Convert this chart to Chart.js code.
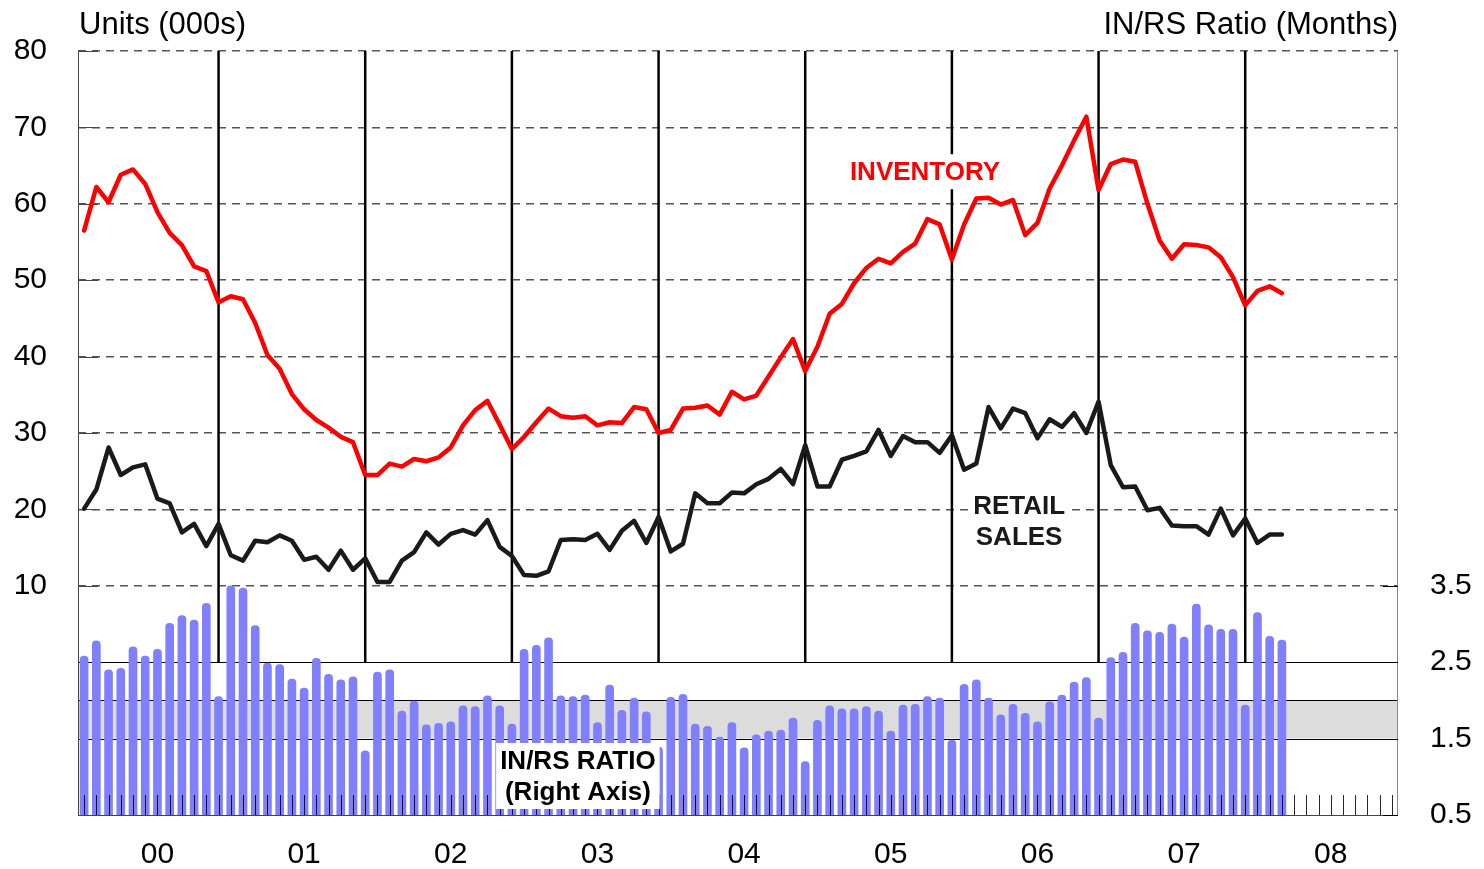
<!DOCTYPE html>
<html>
<head>
<meta charset="utf-8">
<script src="https://cdn.jsdelivr.net/npm/chart.js@4.4.1/dist/chart.umd.min.js"></script>
<style>
body { margin: 0; background: #fff; }
</style>
</head>
<body>
<canvas id="chart" width="1484" height="869"></canvas>
<script>
const years = ['00', '01', '02', '03', '04', '05', '06', '07', '08'];

// units (000s), Jan 2000 - Mar 2008
const inventory = [
    56.5, 62.2, 60.2, 63.8, 64.5, 62.6, 58.9, 56.2, 54.6, 51.8, 51.2, 47.1,
    47.9, 47.5, 44.4, 40.2, 38.4, 35.1, 33.1, 31.7, 30.7, 29.5, 28.8, 24.5,
    24.5, 26.0, 25.6, 26.6, 26.3, 26.8, 28.1, 31.0, 33.0, 34.2, 31.1, 27.9,
    29.5, 31.4, 33.2, 32.2, 32.0, 32.2, 31.0, 31.4, 31.3, 33.4, 33.1, 30.0,
    30.4, 33.2, 33.3, 33.6, 32.4, 35.4, 34.4, 34.9, 37.4, 39.9, 42.3, 38.1,
    41.3, 45.6, 46.9, 49.6, 51.6, 52.8, 52.2, 53.7, 54.8, 58.0, 57.3, 52.7,
    57.3, 60.7, 60.8, 59.9, 60.5, 55.9, 57.5, 62.0, 65.0, 68.3, 71.4, 61.8,
    65.2, 65.8, 65.5, 60.0, 55.2, 52.8, 54.7, 54.6, 54.3, 53.0, 50.4, 46.7,
    48.6, 49.2, 48.3
];
const retailSales = [
    20.1, 22.6, 28.1, 24.5, 25.5, 25.9, 21.4, 20.8, 17.0, 18.1, 15.2, 18.1,
    14.0, 13.3, 15.9, 15.7, 16.6, 15.9, 13.4, 13.8, 12.1, 14.6, 12.1, 13.6,
    10.5, 10.5, 13.3, 14.4, 17.0, 15.4, 16.8, 17.3, 16.7, 18.6, 15.1, 13.9,
    11.4, 11.3, 11.9, 16.0, 16.1, 16.0, 16.8, 14.7, 17.2, 18.5, 15.6, 19.0,
    14.5, 15.5, 22.1, 20.8, 20.8, 22.2, 22.1, 23.3, 24.0, 25.3, 23.3, 28.4,
    23.0, 23.0, 26.5, 27.0, 27.6, 30.4, 27.0, 29.6, 28.8, 28.8, 27.4, 29.7,
    25.2, 26.0, 33.4, 30.6, 33.2, 32.6, 29.3, 31.8, 30.8, 32.6, 30.0, 34.1,
    25.8, 22.9, 23.0, 19.9, 20.2, 17.9, 17.8, 17.8, 16.7, 20.1, 16.6, 18.8,
    15.6, 16.7, 16.7
];
// months of supply
const inRsRatio = [
    2.58, 2.78, 2.40, 2.42, 2.70, 2.58, 2.67, 3.01, 3.11, 3.05, 3.27, 2.05,
    3.50, 3.47, 2.98, 2.49, 2.47, 2.28, 2.16, 2.55, 2.34, 2.27, 2.31, 1.34,
    2.37, 2.40, 1.86, 1.99, 1.68, 1.70, 1.72, 1.93, 1.92, 2.06, 1.93, 1.69,
    2.67, 2.72, 2.82, 2.06, 2.05, 2.07, 1.71, 2.20, 1.87, 2.03, 1.85, 1.39,
    2.04, 2.08, 1.69, 1.66, 1.52, 1.71, 1.38, 1.55, 1.60, 1.61, 1.77, 1.20,
    1.74, 1.93, 1.89, 1.89, 1.92, 1.86, 1.60, 1.94, 1.95, 2.05, 2.03, 1.48,
    2.21, 2.27, 2.03, 1.81, 1.95, 1.83, 1.72, 1.98, 2.07, 2.24, 2.30, 1.77,
    2.56, 2.63, 3.01, 2.91, 2.89, 3.00, 2.83, 3.26, 2.99, 2.93, 2.93, 1.94,
    3.15, 2.84, 2.79
];
const leftTicks = [10, 20, 30, 40, 50, 60, 70, 80];
const rightTicks = [0.5, 1.5, 2.5, 3.5];

const FONT = '"Liberation Sans", Arial, sans-serif';

var months = [];
years.forEach(function (yr) {
    for (var m = 1; m <= 12; m++) months.push(yr + '-' + m);
});

function seg(ctx, x1, y1, x2, y2) {
    ctx.beginPath();
    ctx.moveTo(x1, y1);
    ctx.lineTo(x2, y2);
    ctx.stroke();
}

function boxLabel(ctx, lines, cx, cy, color) {
    var lineH = 31;
    ctx.font = 'bold 26px ' + FONT;
    var w = Math.max.apply(null, lines.map(function (t) { return ctx.measureText(t).width; })) + 8;
    var h = lines.length * lineH + 4;
    ctx.fillStyle = '#fff';
    ctx.fillRect(cx - w / 2, cy - h / 2, w, h);
    ctx.fillStyle = color;
    ctx.textAlign = 'center';
    ctx.textBaseline = 'middle';
    lines.forEach(function (t, i) {
        ctx.fillText(t, cx, cy - (lines.length - 1) * lineH / 2 + i * lineH + 1);
    });
}

const decor = {
    id: 'decor',
    beforeDatasetsDraw: function (chart) {
        var ctx = chart.ctx, a = chart.chartArea;
        var x = chart.scales.x, y = chart.scales.y, y1 = chart.scales.y1;
        ctx.save();
        // shaded 1.5 - 2.0 band
        var top = y1.getPixelForValue(2.0), bot = y1.getPixelForValue(1.5);
        ctx.fillStyle = '#dcdcdc';
        ctx.fillRect(a.left, top, a.right - a.left, bot - top);
        ctx.strokeStyle = '#000';
        ctx.lineWidth = 1;
        [2.5, 2.0, 1.5].forEach(function (v) {
            var py = Math.round(y1.getPixelForValue(v)) + 0.5;
            seg(ctx, a.left, py, a.right, py);
        });
        // year dividers at each December
        ctx.lineWidth = 2.5;
        for (var i = 11; i < months.length - 1; i += 12) {
            var px = x.getPixelForValue(i);
            seg(ctx, px, a.top, px, y1.getPixelForValue(2.5));
        }
        // frame + inward ticks
        ctx.lineWidth = 1;
        ctx.strokeStyle = '#444';
        seg(ctx, a.left + 0.5, a.top, a.left + 0.5, a.bottom);
        seg(ctx, a.left, a.bottom + 0.5, a.right, a.bottom + 0.5);
        leftTicks.forEach(function (v) {
            var py = Math.round(y.getPixelForValue(v)) + 0.5;
            seg(ctx, a.left, py, a.left + 20, py);
        });
        ctx.strokeStyle = '#888';
        seg(ctx, a.right - 0.5, a.top, a.right - 0.5, a.bottom);
        ctx.strokeStyle = '#000';
        rightTicks.forEach(function (v) {
            var py = Math.round(y1.getPixelForValue(v)) + 0.5;
            seg(ctx, a.right - 15, py, a.right, py);
        });
        ctx.restore();
    },
    afterDatasetsDraw: function (chart) {
        var ctx = chart.ctx, a = chart.chartArea;
        var x = chart.scales.x, y = chart.scales.y, y1 = chart.scales.y1;
        ctx.save();
        ctx.strokeStyle = 'rgba(0,0,0,0.85)';
        ctx.lineWidth = 1;
        months.forEach(function (m, i) {
            var px = Math.round(x.getPixelForValue(i)) + 0.5;
            seg(ctx, px, a.bottom - 20, px, a.bottom);
        });
        boxLabel(ctx, ['INVENTORY'], x.getPixelForValue(68.8), y.getPixelForValue(64.2), '#ff0000');
        boxLabel(ctx, ['RETAIL', 'SALES'], x.getPixelForValue(76.5), y.getPixelForValue(18.5), '#1a1a1a');
        boxLabel(ctx, ['IN/RS RATIO', '(Right Axis)'], x.getPixelForValue(40.4), y1.getPixelForValue(1.01), '#000');
        ctx.restore();
    },
    afterDraw: function (chart) {
        var ctx = chart.ctx, a = chart.chartArea;
        ctx.save();
        ctx.font = '31px ' + FONT;
        ctx.fillStyle = '#000';
        ctx.textBaseline = 'alphabetic';
        ctx.textAlign = 'left';
        ctx.fillText('Units (000s)', a.left + 1, 34);
        ctx.textAlign = 'right';
        ctx.fillText('IN/RS Ratio (Months)', a.right, 34);
        ctx.restore();
    }
};

new Chart(document.getElementById('chart'), {
    data: {
        labels: months,
        datasets: [
            {
                type: 'line', label: 'Inventory', data: inventory, yAxisID: 'y',
                borderColor: '#ff0000', borderWidth: 4.5, borderJoinStyle: 'round', borderCapStyle: 'round',
                pointRadius: 0, tension: 0, order: 1
            },
            {
                type: 'line', label: 'Retail Sales', data: retailSales, yAxisID: 'y',
                borderColor: '#1a1a1a', borderWidth: 4.5, borderJoinStyle: 'round', borderCapStyle: 'round',
                pointRadius: 0, tension: 0, order: 2
            },
            {
                type: 'bar', label: 'IN/RS Ratio', data: inRsRatio, yAxisID: 'y1',
                backgroundColor: '#8080ff', barThickness: 8, borderRadius: 4, borderSkipped: false, order: 3
            }
        ]
    },
    options: {
        responsive: false,
        animation: false,
        layout: { padding: { top: 51, left: 0, right: 0, bottom: 0 } },
        plugins: { legend: { display: false }, tooltip: { enabled: false } },
        scales: {
            x: {
                type: 'category',
                offset: true,
                grid: { display: false },
                border: { display: false },
                ticks: {
                    autoSkip: false, maxRotation: 0, minRotation: 0, padding: 14, color: '#000',
                    font: { size: 30, family: FONT },
                    callback: function (v, i) { return i % 12 === 6 ? years[Math.floor(i / 12)] : ''; }
                },
                afterFit: function (s) { s.height = 54; }
            },
            y: {
                position: 'left',
                min: -20, max: 80,
                ticks: {
                    stepSize: 10, padding: 31, color: '#000',
                    font: { size: 30, family: FONT },
                    callback: function (v) { return v >= 10 ? v : ''; }
                },
                grid: {
                    drawTicks: false, lineWidth: 1.5,
                    color: function (c) { return c.tick && c.tick.value >= 10 ? '#555' : 'rgba(0,0,0,0)'; }
                },
                border: { display: false, dash: [8, 6] },
                afterFit: function (s) { s.width = 78; }
            },
            y1: {
                position: 'right',
                min: 0.5, max: 10.5,
                afterBuildTicks: function (s) { s.ticks = rightTicks.map(function (v) { return { value: v }; }); },
                ticks: {
                    padding: 32, color: '#000',
                    font: { size: 30, family: FONT },
                    callback: function (v) { return v.toFixed(1); }
                },
                grid: { display: false, drawTicks: false },
                border: { display: false },
                afterFit: function (s) { s.width = 86; }
            }
        }
    },
    plugins: [decor]
});
</script>
</body>
</html>
